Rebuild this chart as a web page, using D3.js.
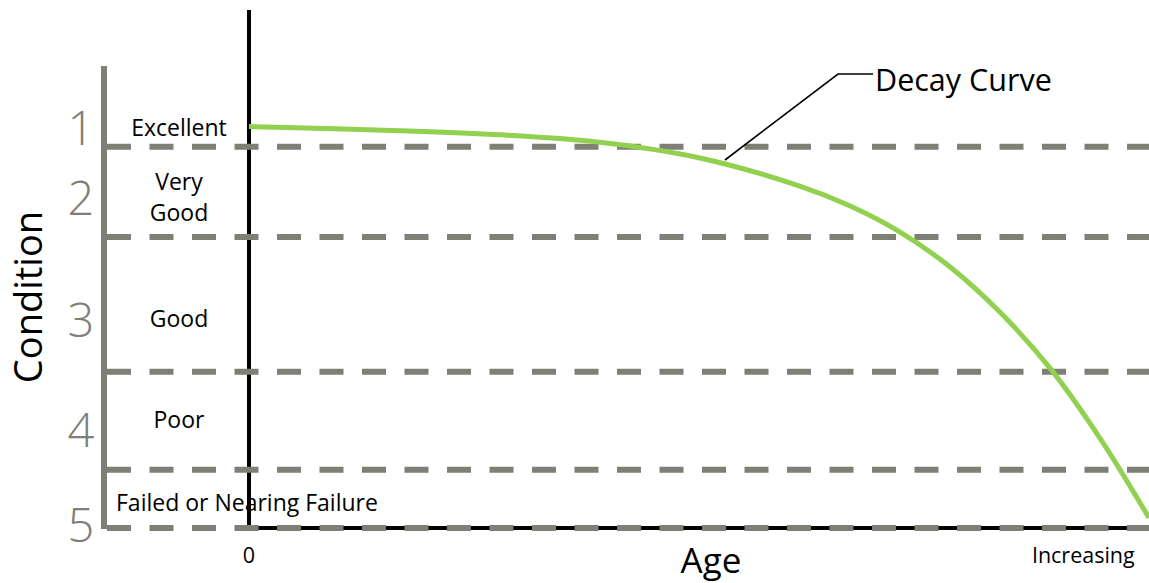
<!DOCTYPE html>
<html>
<head>
<meta charset="utf-8">
<script src="https://cdn.jsdelivr.net/npm/d3@7"></script>
<style>
  body { margin: 0; background: #fff; }
  text { font-family: "Open Sans", sans-serif; }
</style>
</head>
<body>
<script>
const width = 1149;
const height = 583;

// condition index 0 (failed) .. 100 (new), age 0 .. 100 (increasing)
const ratings = ["1", "2", "3", "4", "5"];
const ratingPos = [82.9, 67.7, 41.3, 17.5, -3.0];
const zoneLabels = [["Excellent"], ["Very", "Good"], ["Good"], ["Poor"], ["Failed or Nearing Failure"]];
const zonePos = [84.8, 73.2, 43.6, 21.6, 3.7];
const zoneBounds = [82.5, 63.0, 33.8, 12.6, 0];
const ageLabels = ["0", "Increasing"];
const agePos = [0, 92.7];

const curveAge = [0, 16.8, 27.9, 39.0, 50.1, 61.2, 66.8, 72.3, 77.9, 83.4, 89.0, 94.6, 100];
const curveCondition = [86.9, 86.0, 85.1, 83.5, 80.1, 74.0, 69.7, 64.1, 56.5, 46.8, 34.6, 19.3, 2.2];

const gray = "#7f7f77";
const green = "#92d050";

const svg = d3.select("body")
  .append("svg")
  .attr("width", width)
  .attr("height", height);

const xScale = d3.scaleLinear()
  .domain([0, 100])
  .range([249, 1149]);

const yScale = d3.scaleLinear()
  .domain([0, 100])
  .range([528, 66]);

const axisX = 104;

// black age axis
svg.append("line")
  .attr("x1", xScale(0)).attr("x2", xScale(0))
  .attr("y1", 10).attr("y2", yScale(0))
  .attr("stroke", "#000")
  .attr("stroke-width", 4);

svg.append("line")
  .attr("x1", xScale(0)).attr("x2", xScale(100))
  .attr("y1", yScale(0)).attr("y2", yScale(0))
  .attr("stroke", "#000")
  .attr("stroke-width", 4);

// gray condition axis
svg.append("line")
  .attr("x1", axisX).attr("x2", axisX)
  .attr("y1", yScale(100)).attr("y2", yScale(0) + 1)
  .attr("stroke", gray)
  .attr("stroke-width", 6);

// zone boundaries
svg.selectAll("line.bound")
  .data(zoneBounds)
  .enter()
  .append("line")
  .attr("class", "bound")
  .attr("x1", axisX + 3)
  .attr("x2", width)
  .attr("y1", d => yScale(d))
  .attr("y2", d => yScale(d))
  .attr("stroke", gray)
  .attr("stroke-width", 6)
  .attr("stroke-dasharray", "24,18.5");

// decay curve
const line = d3.line()
  .x((d, i) => xScale(curveAge[i]))
  .y(d => yScale(d))
  .curve(d3.curveCatmullRom);

svg.append("path")
  .datum(curveCondition)
  .attr("fill", "none")
  .attr("stroke", green)
  .attr("stroke-width", 5)
  .attr("d", line);

// rating numbers
svg.selectAll("text.rating")
  .data(ratings)
  .enter()
  .append("text")
  .attr("class", "rating")
  .attr("x", 81)
  .attr("y", (d, i) => yScale(ratingPos[i]))
  .attr("text-anchor", "middle")
  .attr("fill", gray)
  .attr("font-size", 47)
  .attr("font-weight", 300)
  .text(d => d);

// zone labels
svg.selectAll("text.zone")
  .data(zoneLabels)
  .enter()
  .append("text")
  .attr("class", "zone")
  .attr("x", (d, i) => i === 4 ? 116 : 179)
  .attr("y", (d, i) => yScale(zonePos[i]))
  .attr("text-anchor", (d, i) => i === 4 ? "start" : "middle")
  .attr("font-size", 23)
  .attr("fill", "#000")
  .selectAll("tspan")
  .data(d => d)
  .enter()
  .append("tspan")
  .attr("x", function() { return d3.select(this.parentNode).attr("x"); })
  .attr("dy", (d, i) => i === 0 ? 0 : 31)
  .text(d => d);

// age labels
svg.selectAll("text.age")
  .data(ageLabels)
  .enter()
  .append("text")
  .attr("class", "age")
  .attr("x", (d, i) => xScale(agePos[i]))
  .attr("y", 563)
  .attr("text-anchor", "middle")
  .attr("font-size", 21.5)
  .text(d => d);

svg.append("text")
  .attr("x", xScale(50) + 12)
  .attr("y", 573)
  .attr("text-anchor", "middle")
  .attr("font-size", 35)
  .text("Age");

svg.append("text")
  .attr("transform", `translate(42,${yScale(50)}) rotate(-90)`)
  .attr("text-anchor", "middle")
  .attr("font-size", 38)
  .text("Condition");

// annotation
svg.append("polyline")
  .attr("points", [[725, 160], [838, 74], [873, 74]].join(" "))
  .attr("fill", "none")
  .attr("stroke", "#000")
  .attr("stroke-width", 1.6);

svg.append("text")
  .attr("x", 875)
  .attr("y", 91)
  .attr("font-size", 30.5)
  .text("Decay Curve");
</script>
</body>
</html>
